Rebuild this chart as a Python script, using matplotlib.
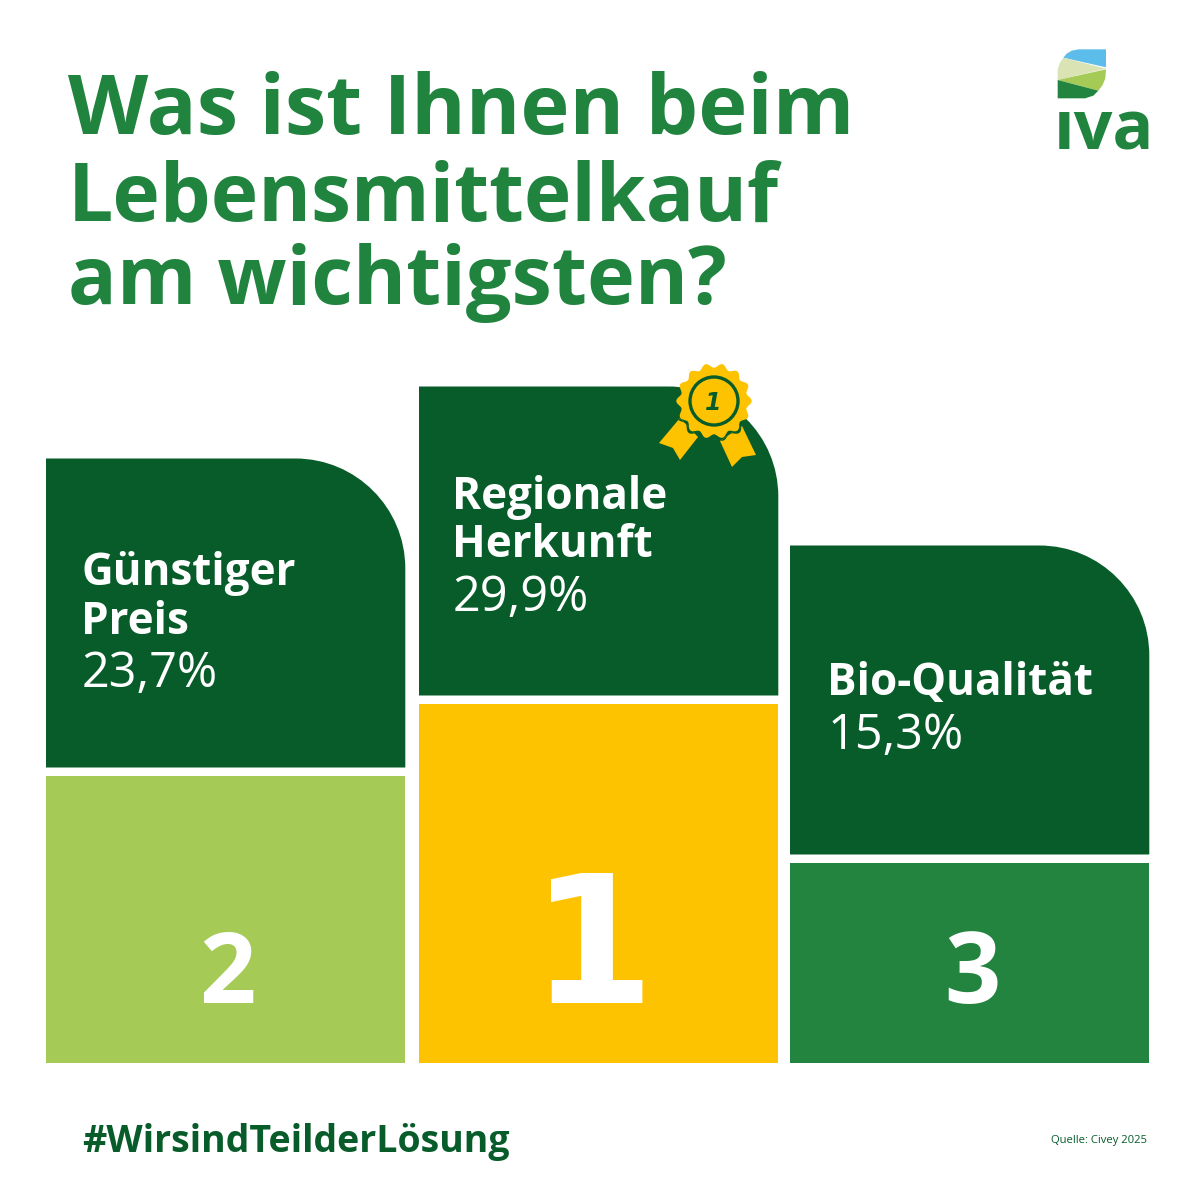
import numpy as np
import matplotlib
matplotlib.use("Agg")
import matplotlib.pyplot as plt
from matplotlib.path import Path
from matplotlib.patches import PathPatch, Polygon, Circle

title_lines = ["Was ist Ihnen beim", "Lebensmittelkauf", "am wichtigsten?"]
categories = ["Günstiger\nPreis", "Regionale\nHerkunft", "Bio-Qualität"]
shares = [23.7, 29.9, 15.3]
share_labels = ["23,7%", "29,9%", "15,3%"]
ranks = ["2", "1", "3"]
podium_heights = [287, 359, 200]
podium_colors = ["#A5CB56", "#FDC300", "#22843F"]

DARK = "#075C2A"
GREEN = "#20843F"
FONT = "Open Sans"

fig = plt.figure(figsize=(12, 12), dpi=100, facecolor="white")
ax = fig.add_axes([0, 0, 1, 1])
ax.set_xlim(0, 1200)
ax.set_ylim(1200, 0)
ax.axis("off")

baseline = 1063
lefts = [46, 419, 790]
width = 359.3
gap = 8.5
panel_h = 309
radius = 110
k = 0.5523


def panel(x0, x1, y0, y1, r):
    verts = [(x0, y1), (x0, y0), (x1 - r, y0),
             (x1 - r + k * r, y0), (x1, y0 + r - k * r), (x1, y0 + r),
             (x1, y1), (x0, y1)]
    codes = [Path.MOVETO, Path.LINETO, Path.LINETO,
             Path.CURVE4, Path.CURVE4, Path.CURVE4,
             Path.LINETO, Path.CLOSEPOLY]
    return Path(verts, codes)


ax.bar(lefts, podium_heights, width=width, bottom=[baseline - h for h in podium_heights],
       align="edge", color=podium_colors, linewidth=0, zorder=2)

for x, h in zip(lefts, podium_heights):
    y1 = baseline - h - gap
    y0 = y1 - panel_h
    ax.add_patch(PathPatch(panel(x, x + width, y0, y1, radius), fc=DARK, lw=0, zorder=2))

# title
for line, y, s in zip(title_lines, [134, 220, 304], [59.8, 57.9, 58.2]):
    ax.text(68, y, line, family=FONT, weight="bold", size=s, color=GREEN, va="baseline", ha="left", zorder=3)

# labels
label_pos = [(81, [585, 634], 687), (452, [509, 557], 611), (827, [695], 749)]
for cat, lab, (x, ys, ysh) in zip(categories, share_labels, label_pos):
    for part, y in zip(cat.split("\n"), ys):
        ax.text(x, y, part, family=FONT, weight="bold", size=31.7, color="white", va="baseline", zorder=3)
    ax.text(x + 1, ysh, lab, family=FONT, weight="normal", size=35, color="white", va="baseline", zorder=3)

# rank numerals
rank_pos = [(227, 1003, 71, FONT), (593, 1003, 128, "DejaVu Sans"), (972, 1003, 71, FONT)]
for r, (x, y, s, fam) in zip(ranks, rank_pos):
    ax.text(x, y, r, family=fam, weight="bold", size=s, color="white", ha="center", va="baseline", zorder=3)

ax.text(82, 1152, "#WirsindTeilderLösung", family=FONT, weight="bold", size=27, color=DARK, va="baseline")
ax.text(1147, 1143, "Quelle: Civey 2025", family=FONT, size=8.1, color=DARK, ha="right", va="baseline")

# rosette
cx, cy = 714, 401
ang = np.linspace(0, 2 * np.pi, 721)
rad = 35.5 + 2.2 * np.cos(14 * ang)
ros = np.c_[cx + rad * np.cos(ang), cy + rad * np.sin(ang)]
rib_l = [(680, 418), (698, 437), (680, 460), (673, 448), (659, 443)]
rib_r = [(720, 441), (742, 426), (756, 455), (742, 457), (732, 467)]
for rib in (rib_l, rib_r):
    p = Polygon(rib, closed=True, fc="#FDC300", lw=0, zorder=4)
    ax.add_patch(p)
    rim = np.c_[cx + (rad + 3) * np.cos(ang), cy + (rad + 3) * np.sin(ang)]
    d = Polygon(rim, closed=True, fc=DARK, lw=0, zorder=4.5)
    ax.add_patch(d)
    d.set_clip_path(p)
ax.add_patch(Polygon(ros, closed=True, fc="#FDC300", lw=0, zorder=5))
ax.add_patch(Circle((cx, cy), 24, fc="none", ec=DARK, lw=2.4, zorder=6))
ax.text(cx - 0.5, cy + 9, "1", family="DejaVu Sans", weight="bold", style="italic", size=17, color=DARK, ha="center", va="baseline", zorder=7)

# logo
def logo(pts):
    return [(1030 + a / 3, 30 + b / 3) for a, b in pts]
ax.add_patch(Polygon(logo([(100, 83), (110, 71), (125, 62), (145, 58), (228, 58), (228, 112)]), fc="#5CBDEB", lw=0))
ax.add_patch(Polygon(logo([(100, 83), (228, 116), (83, 150), (83, 118), (90, 98)]), fc="#DAE3B4", lw=0))
ax.add_patch(Polygon(logo([(83, 150), (228, 118), (226, 145), (218, 165), (205, 182)]), fc="#A5CB56", lw=0))
ax.add_patch(Polygon(logo([(83, 150), (205, 182), (190, 197), (165, 205), (83, 205)]), fc="#22843F", lw=0))
ax.text(1054, 150, "ıva", family=FONT, weight="bold", size=49, color=GREEN, va="baseline")

fig.savefig("out.png", dpi=100, facecolor="white")
